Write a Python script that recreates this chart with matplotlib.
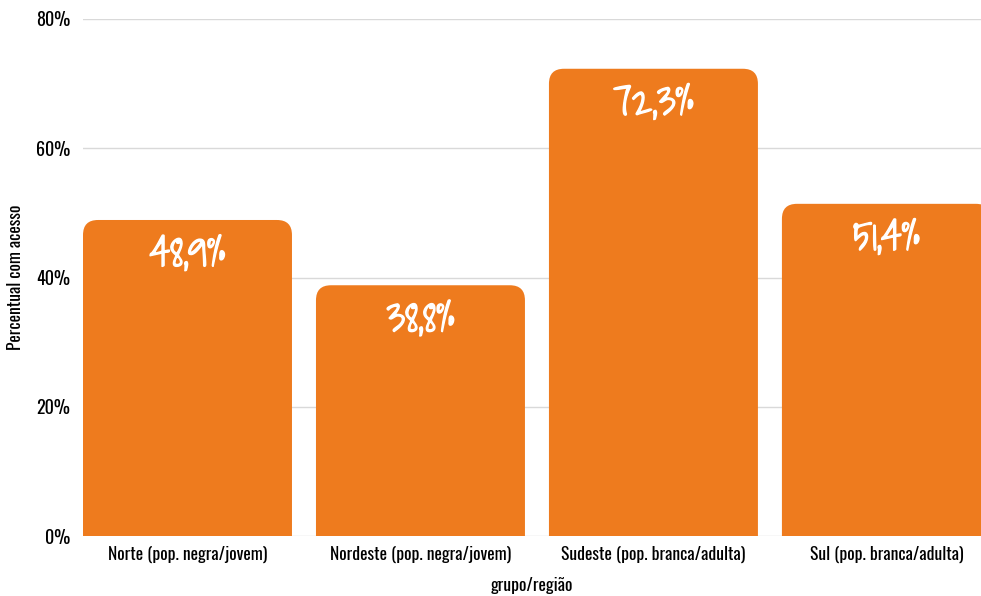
import matplotlib
matplotlib.use("Agg")
import matplotlib.pyplot as plt
from matplotlib.patches import FancyBboxPatch
from matplotlib.ticker import FuncFormatter
import matplotlib.patheffects as pe

categories = ["Norte (pop. negra/jovem)", "Nordeste (pop. negra/jovem)",
              "Sudeste (pop. branca/adulta)", "Sul (pop. branca/adulta)"]
values = [48.9, 38.8, 72.3, 51.4]
value_labels = ["48,9%", "38,8%", "72,3%", "51,4%"]
yticks = [0, 20, 40, 60, 80]

plt.rcParams['font.family'] = ["Oswald", "DejaVu Sans"]

BAR = "#EE7B1E"
fig = plt.figure(figsize=(9.81, 5.96), dpi=100)
ax = fig.add_axes([83/981, 60/596, 898/981, 517/596])

x = list(range(len(categories)))
width = 0.897
bars = ax.bar(x, values, width=width, color=BAR, zorder=2)
ax.set_xlim(-0.4485, 3.406)
ax.set_ylim(0, 80)

# replace bars with rounded-top versions
px_x = 898 / (3.406 + 0.4485)
px_y = 517 / 80
r_px = 15
r = r_px / px_x
aspect = (r_px / px_y) / r
for b in bars:
    b.set_visible(False)
    x0, w, h = b.get_x(), b.get_width(), b.get_height()
    p = FancyBboxPatch((x0, -10), w, h + 10,
                       boxstyle=f"round,pad=0,rounding_size={r}",
                       mutation_aspect=aspect, facecolor=BAR, edgecolor="none",
                       zorder=2, clip_on=True)
    ax.add_patch(p)

for xi, v, lab in zip(x, values, value_labels):
    ax.annotate(lab, (xi, v), xytext=(0, -25), textcoords="offset points",
                ha="center", va="center", color="white", fontsize=29,
                family=["Shadows Into Light", "DejaVu Sans"], zorder=3,
                path_effects=[pe.withStroke(linewidth=1.0, foreground="white")])

ax.set_yticks(yticks)
ax.yaxis.set_major_formatter(FuncFormatter(lambda v, p: f"{int(v)}%"))
ax.set_xticks(x)
ax.set_xticklabels(categories)
ax.tick_params(axis="y", length=0, pad=9, labelsize=13)
ax.tick_params(axis="x", length=0, pad=7, labelsize=12.7)
ax.grid(axis="y", color="#d9d9d9", linewidth=1, zorder=0)
ax.set_axisbelow(True)
for s in ax.spines.values():
    s.set_visible(False)

ax.set_ylabel("Percentual com acesso", fontsize=12.7, labelpad=9)
ax.set_xlabel("grupo/região", fontsize=12.7, labelpad=10)

fig.savefig("out.png", dpi=100)
